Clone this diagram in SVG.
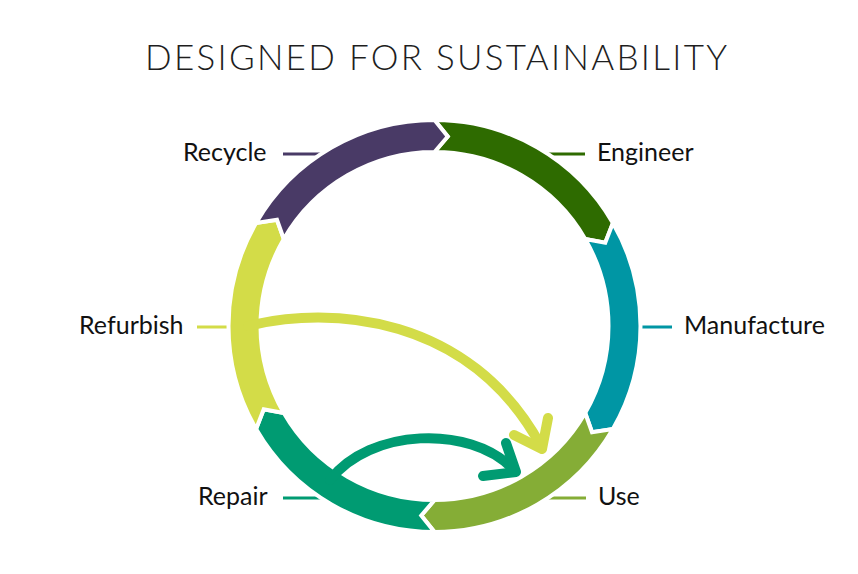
<svg xmlns="http://www.w3.org/2000/svg" width="858" height="574" viewBox="0 0 858 574">
<style>
.title{font-family:Lato,"Open Sans","Liberation Sans",sans-serif;font-weight:300;font-size:35px;fill:#1e1e1e}
.lbl{font-family:Lato,"Open Sans","Liberation Sans",sans-serif;font-size:25px;fill:#111}
.seg{stroke:#fff;stroke-width:4;stroke-linejoin:miter}
.lead{stroke-width:3;fill:none}
.flow{fill:none;stroke-width:10;stroke-linecap:round;stroke-linejoin:round}
</style>
<rect width="858" height="574" fill="#fff"/>
<text class="title" x="436" y="70" text-anchor="middle" textLength="582" lengthAdjust="spacing">DESIGNED FOR SUSTAINABILITY</text>
<g id="connectors">
<line class="lead" x1="283" y1="154" x2="335" y2="154" stroke="#493a66"/>
<line class="lead" x1="535" y1="154" x2="585" y2="154" stroke="#2e6b00"/>
<line class="lead" x1="630" y1="327" x2="672" y2="327" stroke="#0096a4"/>
<line class="lead" x1="197" y1="327" x2="240" y2="327" stroke="#d3dc48"/>
<line class="lead" x1="283" y1="498" x2="330" y2="498" stroke="#009b72"/>
<line class="lead" x1="540" y1="498" x2="586" y2="498" stroke="#85ad36"/>
</g>
<g id="engineer">
<path class="seg" fill="#2e6b00" d="M434.5 120 A206 206 0 0 1 612.9 223 L605.27 242.71 L585.19 239 A174 174 0 0 0 434.5 152 L447.75 136.46 Z"/>
<text class="lbl" x="597" y="161">Engineer</text>
</g>
<g id="manufacture">
<path class="seg" fill="#0096a4" d="M612.9 223 A206 206 0 0 1 612.9 429 L592.02 432.25 L585.19 413 A174 174 0 0 0 585.19 239 L605.27 242.71 Z"/>
<text class="lbl" x="684" y="334">Manufacture</text>
</g>
<g id="use">
<path class="seg" fill="#85ad36" d="M612.9 429 A206 206 0 0 1 434.5 532 L421.25 515.54 L434.5 500 A174 174 0 0 0 585.19 413 L592.02 432.25 Z"/>
<text class="lbl" x="598" y="505">Use</text>
</g>
<g id="repair">
<path class="seg" fill="#009b72" d="M434.5 532 A206 206 0 0 1 256.1 429 L263.73 409.29 L283.81 413 A174 174 0 0 0 434.5 500 L421.25 515.54 Z"/>
<text class="lbl" x="198" y="505">Repair</text>
</g>
<g id="refurbish">
<path class="seg" fill="#d3dc48" d="M256.1 429 A206 206 0 0 1 256.1 223 L276.98 219.75 L283.81 239 A174 174 0 0 0 283.81 413 L263.73 409.29 Z"/>
<text class="lbl" x="79" y="334">Refurbish</text>
</g>
<g id="recycle">
<path class="seg" fill="#493a66" d="M256.1 223 A206 206 0 0 1 434.5 120 L447.75 136.46 L434.5 152 A174 174 0 0 0 283.81 239 L276.98 219.75 Z"/>
<text class="lbl" x="183" y="161">Recycle</text>
</g>
<g id="flows">
<path class="flow" stroke="#d3dc48" d="M248 326 C330 305 470 315 541 446"/>
<polyline class="flow" stroke="#d3dc48" points="514,435 542,449 548,418"/>
<path class="flow" stroke="#009b72" d="M330 480 C370 428 470 425 512 468"/>
<polyline class="flow" stroke="#009b72" points="483,476 516,472 506,443"/>
</g>
</svg>
